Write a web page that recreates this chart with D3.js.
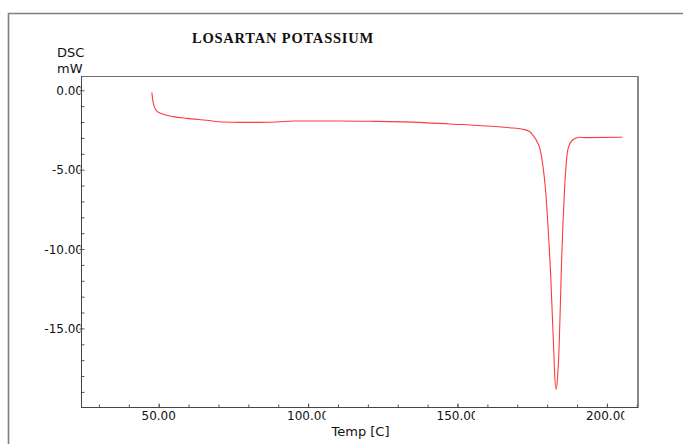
<!DOCTYPE html>
<html>
<head>
<meta charset="utf-8">
<script src="https://cdn.jsdelivr.net/npm/d3@7"></script>
<style>
body { margin: 0; background: #fff; }
svg { display: block; }
</style>
</head>
<body>
<script>
// canvas and plot box numbers
var w = 683;
var h = 444;
var plotLeft = 81;
var plotRight = 638;
var plotTop = 76;
var plotBottom = 407;

// data
var temp = [47.7, 48.2, 49.3, 51.5, 54.9, 59.4, 66.0, 71.6, 77.2, 83.8, 89.4, 95.0,
            110.6, 120.6, 137.3, 147.3, 158.4, 167.4, 171.8, 174.1, 175.2, 176.8, 177.6,
            178.3, 179.0, 179.6, 180.1, 180.7, 181.2, 181.7, 182.2, 182.5, 183.0, 183.5, 184.0,
            184.4, 184.8, 185.3, 185.8, 186.3, 186.9, 188.5, 190.8, 193.0, 205.2];
var dsc = [-0.13, -0.82, -1.29, -1.51, -1.66, -1.77, -1.89, -2.00, -2.02, -2.02, -2.00, -1.93,
           -1.93, -1.95, -2.02, -2.12, -2.23, -2.36, -2.45, -2.60, -2.82, -3.30, -3.70,
           -4.40, -5.40, -6.60, -8.00, -9.90, -11.74, -14.05, -16.36, -17.83, -18.84, -18.04, -16.15,
           -13.63, -10.90, -8.38, -6.28, -4.80, -3.76, -3.13, -2.96, -2.98, -2.96];

// tick values
var xMajor = [50, 100, 150, 200];
var xMinor = d3.range(30, 211, 10);
var yMajor = [0, -5, -10, -15];
var yMinor = d3.range(-19, 1, 1);

var svg = d3.select("body")
            .append("svg")
            .attr("width", w)
            .attr("height", h);

var x = d3.scaleLinear()
          .domain([24.0, 210.4])
          .range([plotLeft, plotRight]);

var y = d3.scaleLinear()
          .domain([-19.95, 0.9])
          .range([plotBottom, plotTop]);

// instrument prints plain hyphens
var fmt = function(v) { return d3.format(".2f")(v).replace("\u2212", "-"); };

// outer frame
svg.append("path")
   .attr("d", "M8.5," + h + "V13.5H" + w)
   .attr("fill", "none")
   .attr("stroke", "#7f7f7f")
   .attr("stroke-width", 1.6);

// title
svg.append("text")
   .attr("x", 283)
   .attr("y", 43)
   .attr("text-anchor", "middle")
   .style("font-family", "'Liberation Serif', 'Times New Roman', serif")
   .style("font-weight", "bold")
   .style("font-size", "14.5px")
   .style("letter-spacing", "0.8px")
   .style("fill", "#111")
   .text("LOSARTAN POTASSIUM");

// y axis title
svg.append("text")
   .attr("x", 57)
   .attr("y", 57)
   .style("font-family", "'DejaVu Sans', sans-serif")
   .style("font-size", "13px")
   .style("fill", "#111")
   .text("DSC");
svg.append("text")
   .attr("x", 57)
   .attr("y", 72.5)
   .style("font-family", "'DejaVu Sans', sans-serif")
   .style("font-size", "13px")
   .style("fill", "#111")
   .text("mW");

// box top and right
svg.append("line")
   .attr("x1", plotLeft).attr("x2", plotRight)
   .attr("y1", plotTop + 0.5).attr("y2", plotTop + 0.5)
   .attr("stroke", "#6e6e6e");
svg.append("line")
   .attr("x1", plotRight).attr("x2", plotRight)
   .attr("y1", plotTop).attr("y2", plotBottom + 1)
   .attr("stroke", "#8a8a8a")
   .attr("stroke-width", 2);

// clip for y labels, they run under the axis
var defs = svg.append("defs");
defs.append("clipPath").attr("id", "yclip")
    .append("rect")
    .attr("x", 0).attr("y", 0)
    .attr("width", plotLeft - 0.5).attr("height", h);

// x axis
var xAxisG = svg.append("g")
                .attr("transform", "translate(0," + (plotBottom + 0.5) + ")");
xAxisG.append("g")
      .call(d3.axisBottom(x).tickValues(xMinor).tickSizeInner(-3).tickSizeOuter(0).tickFormat(""))
      .call(function(g) { g.select(".domain").remove(); });
xAxisG.append("g")
      .call(d3.axisBottom(x).tickValues(xMajor).tickSizeInner(-4).tickSizeOuter(0).tickFormat(""))
      .call(function(g) { g.select(".domain").remove(); });
xAxisG.selectAll(".tick line").attr("stroke", "#555");
xAxisG.append("line")
      .attr("x1", plotLeft).attr("x2", plotRight)
      .attr("stroke", "#444");

// x labels, each clipped on the right like the instrument does
xMajor.forEach(function(v, i) {
    defs.append("clipPath").attr("id", "xclip" + i)
        .append("rect")
        .attr("x", x(v) - 30).attr("y", plotBottom)
        .attr("width", 30 + 17.5).attr("height", 20);
    svg.append("text")
       .attr("x", x(v))
       .attr("y", plotBottom + 13)
       .attr("text-anchor", "middle")
       .attr("clip-path", "url(#xclip" + i + ")")
       .style("font-family", "'DejaVu Sans', sans-serif")
       .style("font-size", "12px")
       .style("fill", "#111")
       .text(fmt(v));
});

// y axis
var yAxisG = svg.append("g")
                .attr("transform", "translate(" + (plotLeft + 0.5) + ",0)");
yAxisG.append("g")
      .call(d3.axisLeft(y).tickValues(yMinor).tickSizeInner(-3).tickSizeOuter(0).tickFormat(""))
      .call(function(g) { g.select(".domain").remove(); });
yAxisG.append("g")
      .call(d3.axisLeft(y).tickValues(yMajor).tickSizeInner(2).tickSizeOuter(0).tickFormat(""))
      .call(function(g) { g.select(".domain").remove(); });
yAxisG.selectAll(".tick line").attr("stroke", "#555");
yAxisG.append("line")
      .attr("y1", plotTop).attr("y2", plotBottom + 1)
      .attr("stroke", "#444");

svg.append("g")
   .attr("clip-path", "url(#yclip)")
   .selectAll("text")
   .data(yMajor)
   .enter()
   .append("text")
   .attr("x", plotLeft + 2)
   .attr("y", function(d) { return y(d) + 4.5; })
   .attr("text-anchor", "end")
   .style("font-family", "'DejaVu Sans', sans-serif")
   .style("font-size", "12px")
   .style("fill", "#111")
   .text(function(d) { return fmt(d); });

// x axis title, end clipped
defs.append("clipPath").attr("id", "tclip")
    .append("rect")
    .attr("x", 300).attr("y", 415)
    .attr("width", 89.5).attr("height", 30);
svg.append("text")
   .attr("x", 331.5)
   .attr("y", 436)
   .attr("clip-path", "url(#tclip)")
   .style("font-family", "'DejaVu Sans', sans-serif")
   .style("font-size", "13px")
   .style("fill", "#111")
   .text("Temp [C]");

// the DSC curve
var line = d3.line()
             .x(function(d, i) { return x(temp[i]); })
             .y(function(d) { return y(d); })
             .curve(d3.curveMonotoneX);

svg.append("path")
   .datum(dsc)
   .attr("d", line)
   .attr("fill", "none")
   .attr("stroke", "#ff3b3b")
   .attr("stroke-width", 1.1);
</script>
</body>
</html>
